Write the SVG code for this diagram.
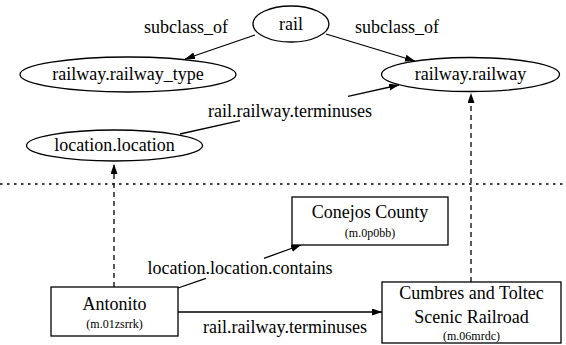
<svg xmlns="http://www.w3.org/2000/svg" width="566" height="345" viewBox="0 0 566 345">
<style>
  .node { fill: #fff; stroke: #000; stroke-width: 1.3; }
  .lbl { font-family: "Liberation Serif", "Times New Roman", serif; font-size: 18px; fill: #000; text-anchor: middle; }
  .small { font-family: "Liberation Serif", "Times New Roman", serif; font-size: 12px; fill: #000; text-anchor: middle; }
  .edge { stroke: #000; stroke-width: 1.3; fill: none; }
  .dashed { stroke-dasharray: 5,4; }
  .dotted { stroke: #000; stroke-width: 1.3; stroke-dasharray: 2.5,4.5; }
</style>
<defs>
  <marker id="arr" markerUnits="userSpaceOnUse" markerWidth="11" markerHeight="8" refX="10" refY="3.5" orient="auto">
    <path d="M0,0 L10,3.5 L0,7 Z" fill="#000"/>
  </marker>
</defs>
<rect width="566" height="345" fill="#fff"/>

<line class="dotted" x1="0" y1="184" x2="566" y2="184"/>

<g id="connectors">
  <line class="edge" x1="255" y1="35" x2="185" y2="59" marker-end="url(#arr)"/>
  <line class="edge" x1="326" y1="34" x2="415" y2="61" marker-end="url(#arr)"/>
  <line class="edge" x1="180" y1="134" x2="240" y2="120.6"/>
  <line class="edge" x1="348" y1="96.4" x2="399" y2="85" marker-end="url(#arr)"/>
  <line class="edge dashed" x1="114" y1="287" x2="114" y2="164" marker-end="url(#arr)"/>
  <line class="edge dashed" x1="471" y1="282" x2="471" y2="93" marker-end="url(#arr)"/>
  <line class="edge" x1="178" y1="288" x2="206" y2="278.3"/>
  <line class="edge" x1="264" y1="258.3" x2="301" y2="245" marker-end="url(#arr)"/>
  <line class="edge" x1="178" y1="312" x2="382" y2="312" marker-end="url(#arr)"/>
  <text class="lbl" x="186" y="33">subclass_of</text>
  <text class="lbl" x="397" y="33">subclass_of</text>
  <text class="lbl" x="290" y="117">rail.railway.terminuses</text>
  <text class="lbl" x="240" y="274">location.location.contains</text>
  <text class="lbl" x="285" y="333">rail.railway.terminuses</text>
</g>

<g id="rail">
  <ellipse class="node" cx="291" cy="24" rx="38" ry="18"/>
  <text class="lbl" x="291" y="30">rail</text>
</g>
<g id="railway_type">
  <ellipse class="node" cx="128" cy="74.5" rx="108" ry="17.5"/>
  <text class="lbl" x="128" y="80">railway.railway_type</text>
</g>
<g id="railway_railway">
  <ellipse class="node" cx="470.5" cy="74.5" rx="89" ry="17"/>
  <text class="lbl" x="470.5" y="80">railway.railway</text>
</g>
<g id="location_location">
  <ellipse class="node" cx="114.5" cy="145.5" rx="88" ry="15.5"/>
  <text class="lbl" x="114.5" y="151">location.location</text>
</g>
<g id="conejos">
  <rect class="node" x="292" y="197" width="156" height="48"/>
  <text class="lbl" x="370" y="218">Conejos County</text>
  <text class="small" x="370" y="237">(m.0p0bb)</text>
</g>
<g id="antonito">
  <rect class="node" x="51" y="287" width="127" height="49"/>
  <text class="lbl" x="114.5" y="310">Antonito</text>
  <text class="small" x="114.5" y="328">(m.01zsrrk)</text>
</g>
<g id="cumbres">
  <rect class="node" x="382" y="282" width="179" height="61"/>
  <text class="lbl" x="471.5" y="299">Cumbres and Toltec</text>
  <text class="lbl" x="471.5" y="323">Scenic Railroad</text>
  <text class="small" x="471.5" y="340">(m.06mrdc)</text>
</g>
</svg>
